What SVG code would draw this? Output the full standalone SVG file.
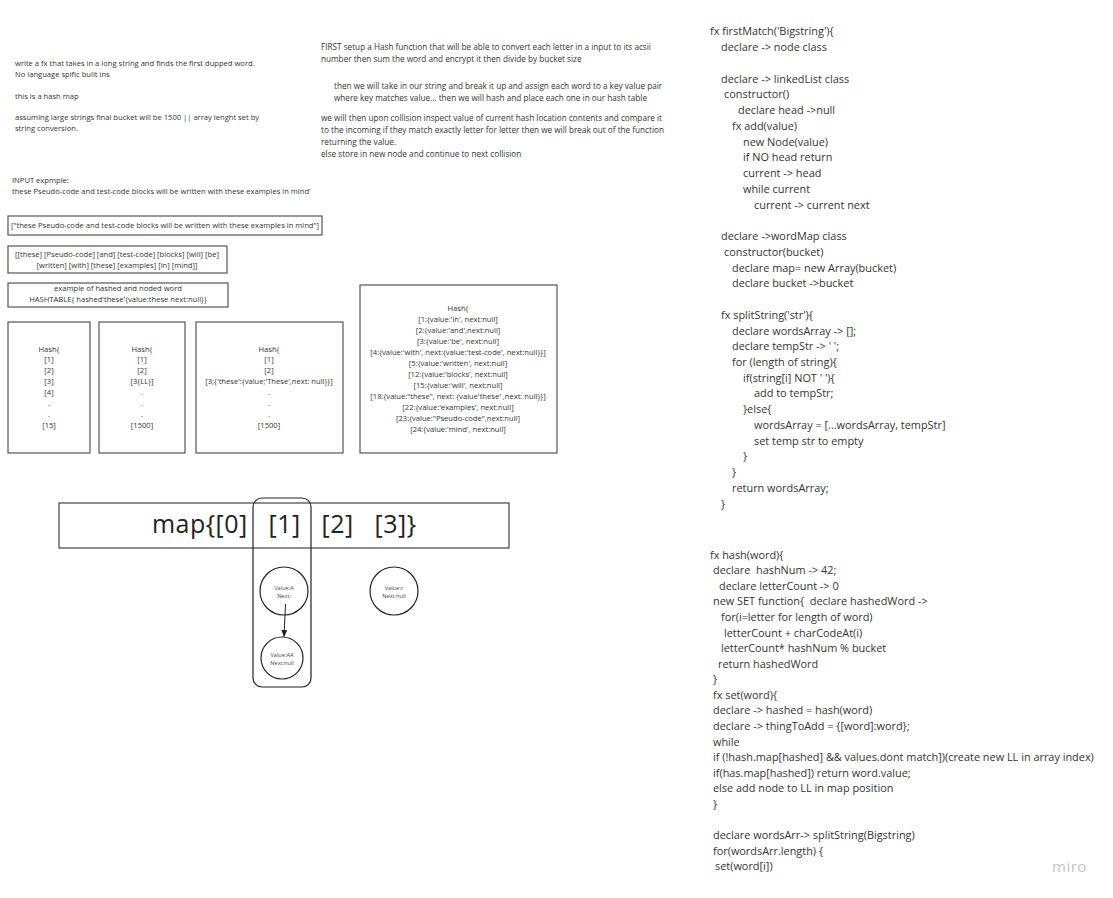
<svg xmlns="http://www.w3.org/2000/svg" width="1113" height="898" viewBox="0 0 1113 898">
<style>
.note{font-family:"Open Sans","Liberation Sans",sans-serif;font-size:7.6px;fill:#333}
.mid{font-family:"Open Sans","Liberation Sans",sans-serif;font-size:8.2px;fill:#333}
.box{fill:#fff;stroke:#555;stroke-width:1.2}
.bt{font-family:"Open Sans","Liberation Sans",sans-serif;font-size:7.6px;fill:#333;text-anchor:middle}
.code{font-family:"Open Sans","Liberation Sans",sans-serif;font-size:10.9px;fill:#333}
.circ{fill:#fff;stroke:#222;stroke-width:1.2}
.ct{font-family:"Open Sans","Liberation Sans",sans-serif;font-size:5.6px;fill:#444;text-anchor:middle}
</style>
<defs>
<marker id="arr" markerWidth="8" markerHeight="8" refX="7" refY="4" orient="auto" markerUnits="userSpaceOnUse">
<path d="M0,1 L7,4 L0,7 Z" fill="#222"/>
</marker>
</defs>
<rect width="1113" height="898" fill="#fff"/>

<g id="notes-left">
<text class="note" x="15" y="66">write a fx that takes in a long string and finds the first dupped word.</text>
<text class="note" x="15" y="77">No language spific bulit ins</text>
<text class="note" x="15" y="99">this is a hash map</text>
<text class="note" x="15" y="120">assuming large strings final bucket will be 1500 || array lenght set by</text>
<text class="note" x="15" y="131">string conversion.</text>
<text class="note" x="12" y="183">INPUT expmple:</text>
<text class="note" x="12" y="194">these Pseudo-code and test-code blocks will be written with these examples in mind'</text>
</g>

<g id="notes-mid">
<text class="mid" x="321" y="50">FIRST setup a Hash function that will be able to convert each letter in a input to its acsii</text>
<text class="mid" x="321" y="62">number then sum the word and encrypt it then divide by bucket size</text>
<text class="mid" x="334" y="89">then we will take in our string and break it up and assign each word to a key value pair</text>
<text class="mid" x="334" y="101">where key matches value... then we will hash and place each one in our hash table</text>
<text class="mid" x="321" y="121">we will then upon collision inspect value of current hash location contents and compare it</text>
<text class="mid" x="321" y="133">to the incoming if they match exactly letter for letter then we will break out of the function</text>
<text class="mid" x="321" y="145">returning the value.</text>
<text class="mid" x="321" y="157">else store in new node and continue to next collision</text>
</g>

<g id="box-input">
<rect class="box" x="8" y="216" width="314" height="19"/>
<text class="bt" x="165" y="228">["these Pseudo-code and test-code blocks will be written with these examples in mind"]</text>
</g>
<g id="box-words">
<rect class="box" x="8" y="246" width="219" height="27"/>
<text class="bt" x="117" y="257">[[these] [Pseudo-code] [and] [test-code] [blocks] [will] [be]</text>
<text class="bt" x="117" y="268">[written] [with] [these] [examples] [in] [mind]]</text>
</g>
<g id="box-example">
<rect class="box" x="8" y="283" width="220" height="24"/>
<text class="bt" x="118" y="291">example of hashed and noded word</text>
<text class="bt" x="118" y="302">HASHTABLE{ hashed'these'{value:these next:null}}</text>
</g>

<g id="hash-a">
<rect class="box" x="8" y="322" width="82" height="131"/>
<text class="bt" x="49" y="352">Hash{</text>
<text class="bt" x="49" y="362">[1]</text>
<text class="bt" x="49" y="373">[2]</text>
<text class="bt" x="49" y="384">[3]</text>
<text class="bt" x="49" y="395">[4]</text>
<text class="bt" x="49" y="406">.</text>
<text class="bt" x="49" y="417">.</text>
<text class="bt" x="49" y="428">[15]</text>
</g>
<g id="hash-b">
<rect class="box" x="99" y="322" width="86" height="131"/>
<text class="bt" x="142" y="352">Hash{</text>
<text class="bt" x="142" y="362">[1]</text>
<text class="bt" x="142" y="373">[2]</text>
<text class="bt" x="142" y="384">[3{LL}]</text>
<text class="bt" x="142" y="395">.</text>
<text class="bt" x="142" y="406">.</text>
<text class="bt" x="142" y="417">.</text>
<text class="bt" x="142" y="428">[1500]</text>
</g>
<g id="hash-c">
<rect class="box" x="196" y="322" width="147" height="131"/>
<text class="bt" x="269" y="352">Hash{</text>
<text class="bt" x="269" y="362">[1]</text>
<text class="bt" x="269" y="373">[2]</text>
<text class="bt" x="269" y="384">[3;{'these':{value;'These',next: null}}]</text>
<text class="bt" x="269" y="395">.</text>
<text class="bt" x="269" y="406">.</text>
<text class="bt" x="269" y="417">.</text>
<text class="bt" x="269" y="428">[1500]</text>
</g>
<g id="hash-d">
<rect class="box" x="360" y="285" width="197" height="168"/>
<text class="bt" x="458" y="311">Hash{</text>
<text class="bt" x="458" y="322">[1:{value:'in', next:null]</text>
<text class="bt" x="458" y="333">[2:{value:'and',next:null]</text>
<text class="bt" x="458" y="344">[3:{value:'be', next:null]</text>
<text class="bt" x="458" y="355">[4:{value:'with', next:{value:'test-code', next:null}}]</text>
<text class="bt" x="458" y="366">[5:{value:'written', next:null]</text>
<text class="bt" x="458" y="377">[12:{value:'blocks', next:null]</text>
<text class="bt" x="458" y="388">[15:{value:'will', next:null]</text>
<text class="bt" x="458" y="399">[18:{value:"these", next: {value'these' ,next: null}}]</text>
<text class="bt" x="458" y="410">[22:{value:'examples', next:null]</text>
<text class="bt" x="458" y="421">[23:{value:"Pseudo-code",next:null]</text>
<text class="bt" x="458" y="432">[24:{value:'mind', next:null]</text>
</g>

<g id="map">
<rect x="59" y="503" width="450" height="45" fill="#fff" stroke="#444" stroke-width="1.2"/>
<text x="152" y="533" font-family="Open Sans, sans-serif" font-size="25" fill="#222" xml:space="preserve" textLength="264" lengthAdjust="spacing">map{[0]   [1]   [2]   [3]}</text>
</g>
<g id="bucket-1">
<rect x="253" y="498" width="58" height="189" rx="9" fill="none" stroke="#222" stroke-width="1.2"/>
</g>
<g id="node-a">
<circle class="circ" cx="284" cy="591" r="24"/>
<text class="ct" x="284" y="590">Value:A</text>
<text class="ct" x="284" y="598">Next:</text>
</g>
<g id="node-aa">
<circle class="circ" cx="282" cy="658" r="21"/>
<text class="ct" x="282" y="657">Value:AA</text>
<text class="ct" x="282" y="665">Next:null</text>
</g>
<g id="node-c">
<circle class="circ" cx="394" cy="591" r="24"/>
<text class="ct" x="394" y="590">Value:c</text>
<text class="ct" x="394" y="598">Next:null</text>
</g>
<g id="connectors">
<line x1="285.5" y1="604" x2="284" y2="637" stroke="#222" stroke-width="1" marker-end="url(#arr)"/>
</g>

<g id="code" class="code">
<text x="710" y="35">fx firstMatch('Bigstring'){</text>
<text x="721" y="51">declare -&gt; node class</text>
<text x="721" y="83">declare -&gt; linkedList class</text>
<text x="724" y="98">constructor()</text>
<text x="738" y="114">declare head -&gt;null</text>
<text x="732" y="130">fx add(value)</text>
<text x="743" y="146">new Node(value)</text>
<text x="743" y="161">if NO head return</text>
<text x="743" y="177">current -&gt; head</text>
<text x="743" y="193">while current</text>
<text x="754" y="209">current -&gt; current next</text>
<text x="721" y="240">declare -&gt;wordMap class</text>
<text x="724" y="256">constructor(bucket)</text>
<text x="732" y="272">declare map= new Array(bucket)</text>
<text x="732" y="287">declare bucket -&gt;bucket</text>
<text x="721" y="319">fx splitString('str'){</text>
<text x="732" y="335">declare wordsArray -&gt; [];</text>
<text x="732" y="350">declare tempStr -&gt; ' ';</text>
<text x="732" y="366">for (length of string){</text>
<text x="743" y="382">if(string[i] NOT ' '){</text>
<text x="754" y="397">add to tempStr;</text>
<text x="743" y="413">}else{</text>
<text x="754" y="429">wordsArray = [...wordsArray, tempStr]</text>
<text x="754" y="445">set temp str to empty</text>
<text x="743" y="460">}</text>
<text x="732" y="476">}</text>
<text x="732" y="492">return wordsArray;</text>
<text x="721" y="508">}</text>
<text x="710" y="559">fx hash(word){</text>
<text x="713" y="574" xml:space="preserve">declare  hashNum -&gt; 42;</text>
<text x="719" y="590">declare letterCount -&gt; 0</text>
<text x="713" y="605" xml:space="preserve">new SET function{  declare hashedWord -&gt;</text>
<text x="721" y="621">for(i=letter for length of word)</text>
<text x="724" y="637">letterCount + charCodeAt(i)</text>
<text x="721" y="652">letterCount* hashNum % bucket</text>
<text x="718" y="668">return hashedWord</text>
<text x="713" y="683">}</text>
<text x="713" y="699">fx set(word){</text>
<text x="713" y="714">declare -&gt; hashed = hash(word)</text>
<text x="713" y="730">declare -&gt; thingToAdd = {[word]:word};</text>
<text x="713" y="746">while</text>
<text x="713" y="761">if (!hash.map[hashed] &amp;&amp; values.dont match])(create new LL in array index)</text>
<text x="713" y="777">if(has.map[hashed]) return word.value;</text>
<text x="713" y="792">else add node to LL in map position</text>
<text x="713" y="808">}</text>
<text x="713" y="839">declare wordsArr-&gt; splitString(Bigstring)</text>
<text x="713" y="855">for(wordsArr.length) {</text>
<text x="715" y="870">set(word[i])</text>
</g>

<text x="1052" y="872" font-family="'Open Sans', sans-serif" font-size="15" letter-spacing="0.5" fill="#c4c4c4">miro</text>
</svg>
